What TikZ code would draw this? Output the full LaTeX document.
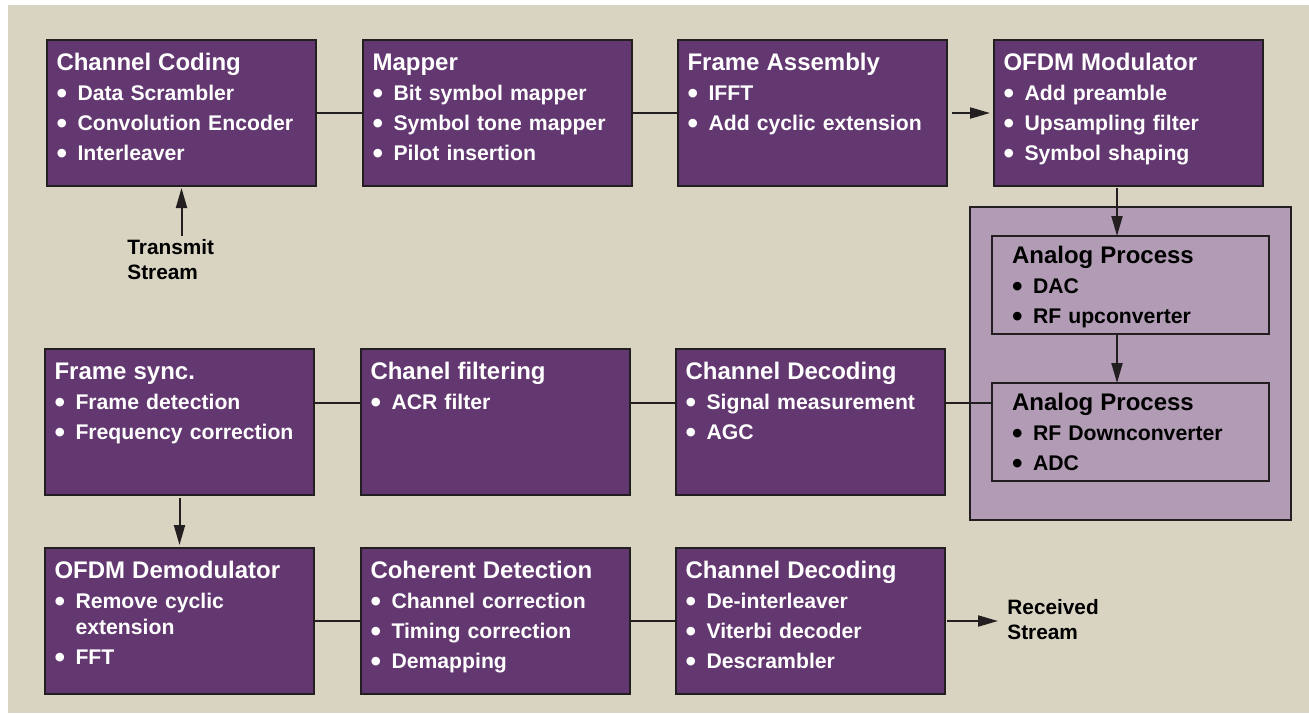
\documentclass[tikz,border=0pt]{standalone}
\usepackage{fontspec}
\setmainfont{Liberation Sans}
\usetikzlibrary{arrows.meta}

\definecolor{bgbeige}{RGB}{216,212,193}
\definecolor{boxpurple}{RGB}{99,55,112}
\definecolor{analogfill}{RGB}{178,156,181}
\definecolor{linedark}{RGB}{35,31,32}

\newcommand{\bul}{\makebox[10.5pt][l]{\raisebox{-1.7pt}{\fontsize{15}{15}\selectfont\textbullet}}}
\newcommand{\ttl}[1]{{\fontsize{12}{15}\selectfont #1}}

\begin{document}
\begin{tikzpicture}[x=0.5pt,y=-0.5pt,
    block/.style={draw=linedark, line width=1.3pt, fill=boxpurple, text=white,
      anchor=north west, inner xsep=4.75pt, inner ysep=0pt, outer sep=0pt,
      text width=125pt, align=left, text height=15pt, text depth=58pt,
      font=\bfseries\fontsize{10.6}{15}\selectfont},
    ablock/.style={block, fill=none, text=black, inner xsep=10pt,
      text width=118.5pt, text height=13.5pt, text depth=35.5pt},
    lbl/.style={inner sep=0pt, align=left, text=black,
      font=\bfseries\fontsize{10.4}{12.5}\selectfont},
    link/.style={draw=linedark, line width=1pt},
    arr/.style={link, -{Triangle[length=10pt,width=5.5pt]}}]

  % background
  \useasboundingbox (0,0) rectangle (1309,713);
  \fill[bgbeige] (8,5) rectangle (1309,713);

  % analog part
  \node[draw=linedark, line width=1.3pt, fill=analogfill, anchor=north west,
    minimum width=160.5pt, minimum height=156.5pt, inner sep=0pt, outer sep=0pt]
    (analog) at (970,207) {};
  \node[ablock] (ap1) at (992,236) {\ttl{Analog Process}\\ \bul DAC\\ \bul RF upconverter};
  \node[ablock] (ap2) at (992,383) {\ttl{Analog Process}\\ \bul RF Downconverter\\ \bul ADC};

  % transmit chain
  \node[block] (coding) at (47,40) {\ttl{Channel Coding}\\ \bul Data Scrambler\\ \bul Convolution Encoder\\ \bul Interleaver};
  \node[block] (mapper) at (363,40) {\ttl{Mapper}\\ \bul Bit symbol mapper\\ \bul Symbol tone mapper\\ \bul Pilot insertion};
  \node[block] (frame) at (678,40) {\ttl{Frame Assembly}\\ \bul IFFT\\ \bul Add cyclic extension};
  \node[block] (ofdm) at (994,40) {\ttl{OFDM Modulator}\\ \bul Add preamble\\ \bul Upsampling filter\\ \bul Symbol shaping};

  % receive chain
  \node[block] (sync) at (45,349) {\ttl{Frame sync.}\\ \bul Frame detection\\ \bul Frequency correction};
  \node[block] (filt) at (361,349) {\ttl{Chanel filtering}\\ \bul ACR filter};
  \node[block] (dec1) at (676,349) {\ttl{Channel Decoding}\\ \bul Signal measurement\\ \bul AGC};
  \node[block] (demod) at (45,548) {\ttl{OFDM Demodulator}\\ \bul Remove cyclic\\[-2pt]\hspace*{10.5pt}extension\\ \bul FFT};
  \node[block] (coher) at (361,548) {\ttl{Coherent Detection}\\ \bul Channel correction\\ \bul Timing correction\\ \bul Demapping};
  \node[block] (dec2) at (676,548) {\ttl{Channel Decoding}\\ \bul De-interleaver\\ \bul Viterbi decoder\\ \bul Descrambler};

  % stream labels
  \node[lbl, anchor=north west] (tx) at (127,239) {Transmit\\Stream};
  \node[lbl, anchor=west] (rx) at (1007,620) {Received\\Stream};

  \coordinate (r2) at (0,403);
  \coordinate (c4) at (1117,0);

  % connectors
  \draw[link] (coding.east) -- (mapper.west);
  \draw[link] (mapper.east) -- (frame.west);
  \draw[arr, shorten <=2.5pt, shorten >=2pt] (frame.east) -- (ofdm.west);
  \draw[arr, shorten <=1.5pt, shorten >=1pt] (coding.south |- tx.north) -- (coding.south);
  \draw[arr, shorten <=1pt] (ofdm.south -| c4) -- (ap1.north -| c4);
  \draw[arr] (ap1.south -| c4) -- (ap2.north -| c4);
  \draw[link] (sync.east |- r2) -- (filt.west |- r2);
  \draw[link] (filt.east |- r2) -- (dec1.west |- r2);
  \draw[link] (dec1.east |- r2) -- (ap2.west |- r2);
  \draw[arr, shorten <=1.5pt, shorten >=1.5pt] (sync.south) -- (demod.north);
  \draw[link] (demod.east) -- (coher.west);
  \draw[link] (coher.east) -- (dec2.west);
  \draw[arr, shorten <=1pt, shorten >=4.5pt] (dec2.east) -- (dec2.east -| rx.west);
\end{tikzpicture}
\end{document}
